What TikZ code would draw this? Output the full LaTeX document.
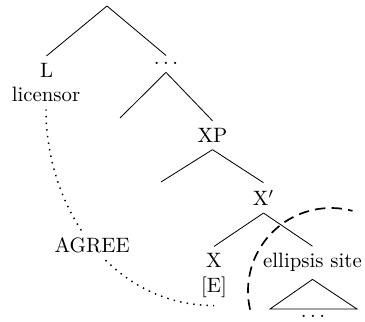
\documentclass[tikz,border=0pt]{standalone}
\begin{document}
\begin{tikzpicture}[x=0.4808pt,y=-0.4808pt,
  lbl/.style={anchor=base},
  agreeline/.style={line width=0.7pt, dash pattern=on 0.7pt off 2.5pt},
  sitecurve/.style={line width=0.8pt, dash pattern=on 5pt off 3pt}]
\useasboundingbox (0,0) rectangle (365,322);
\coordinate (root) at (107,6);
\node[lbl] (L) at (46.5,77.5) {L};
\node[lbl] (lic) at (46,101.7) {licensor};
\node[lbl] (d1) at (166,65) {$\ldots$};
\node[lbl] (XP) at (212.5,142.3) {XP};
\node[lbl] (Xb) at (263.5,205.7) {X$'$};
\node[lbl] (X) at (214,268) {X};
\node[lbl] (E) at (214,293) {[E]};
\node[lbl] (ell) at (312.5,268) {ellipsis site};
\node[lbl] (d2) at (313,318) {$\ldots$};
\coordinate (e1) at (120,118);
\coordinate (e2) at (161,182);
\coordinate (tl) at (270,309);
\coordinate (tr) at (357,309);
\draw (root) -- (L.north);
\draw (root) -- (d1.north);
\draw (d1.south) -- (e1);
\draw (d1.south) -- (XP.north);
\draw (XP.south) -- (e2);
\draw (XP.south) -- (Xb.north);
\draw (Xb.south) -- (X.north);
\draw (Xb.south) -- (ell.north);
\draw (ell.south) -- (tl) -- (tr) -- cycle;
\draw[agreeline] (lic.south) to[out=-90,in=180] node[fill=white] (agr) {AGREE} (E.south);
\draw[sitecurve] (331,291) ++(167:83) arc[start angle=167, end angle=285, radius=83];
\end{tikzpicture}
\end{document}
